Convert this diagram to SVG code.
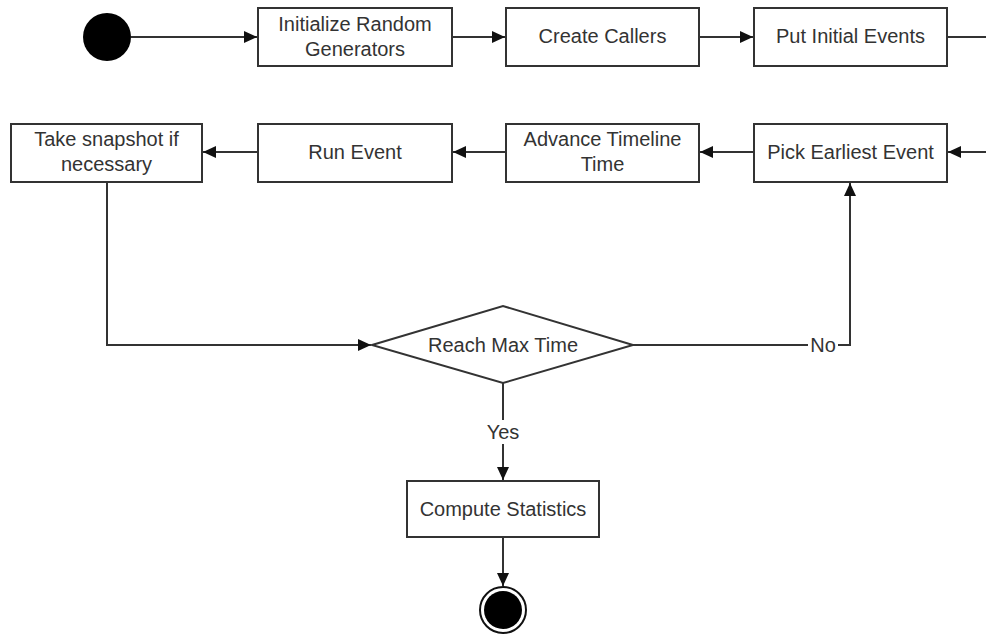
<svg xmlns="http://www.w3.org/2000/svg" width="986" height="635" viewBox="0 0 986 635">
<style>
.box{fill:#fff;stroke:#333;stroke-width:2}
.t{font-family:"Liberation Sans",Arial,sans-serif;font-size:20px;fill:#333;text-anchor:middle}
.c{fill:none;stroke:#333;stroke-width:2}
.lbl{font-family:"Liberation Sans",Arial,sans-serif;font-size:20px;fill:#333;text-anchor:middle}
</style>
<defs>
<marker id="ah" markerWidth="14" markerHeight="12" refX="13" refY="6" orient="auto" markerUnits="userSpaceOnUse">
<path d="M0,0 L13,6 L0,12 Z" fill="#111"/>
</marker>
</defs>
<rect width="986" height="635" fill="#fff"/>
<g id="connectors">
<path class="c" d="M131,37 H257" marker-end="url(#ah)"/>
<path class="c" d="M452,37 H505" marker-end="url(#ah)"/>
<path class="c" d="M699,37 H753" marker-end="url(#ah)"/>
<path class="c" d="M947,37 H1000 V152 H948" marker-end="url(#ah)"/>
<path class="c" d="M754,152 H700" marker-end="url(#ah)"/>
<path class="c" d="M506,152 H453" marker-end="url(#ah)"/>
<path class="c" d="M258,152 H203" marker-end="url(#ah)"/>
<path class="c" d="M107,182 V345 H371" marker-end="url(#ah)"/>
<path class="c" d="M633,345 H850 V183" marker-end="url(#ah)"/>
<path class="c" d="M503,383 V480" marker-end="url(#ah)"/>
<path class="c" d="M503,537 V586" marker-end="url(#ah)"/>
<rect x="808" y="333" width="30" height="24" fill="#fff"/>
<text class="lbl" x="823" y="352">No</text>
<rect x="482" y="420" width="42" height="24" fill="#fff"/>
<text class="lbl" x="503" y="439">Yes</text>
</g>
<g id="start"><circle cx="107" cy="37" r="24" fill="#000"/></g>
<g id="init"><rect class="box" x="258" y="8" width="194" height="58"/><text class="t" x="355" y="31">Initialize Random</text><text class="t" x="355" y="56">Generators</text></g>
<g id="callers"><rect class="box" x="506" y="8" width="193" height="58"/><text class="t" x="602.5" y="43">Create Callers</text></g>
<g id="initial"><rect class="box" x="754" y="8" width="193" height="58"/><text class="t" x="850.5" y="43">Put Initial Events</text></g>
<g id="snapshot"><rect class="box" x="11" y="124" width="191" height="58"/><text class="t" x="106.5" y="146">Take snapshot if</text><text class="t" x="106.5" y="171">necessary</text></g>
<g id="run"><rect class="box" x="258" y="124" width="194" height="58"/><text class="t" x="355" y="159">Run Event</text></g>
<g id="advance"><rect class="box" x="506" y="124" width="193" height="58"/><text class="t" x="602.5" y="146">Advance Timeline</text><text class="t" x="602.5" y="171">Time</text></g>
<g id="pick"><rect class="box" x="754" y="124" width="193" height="58"/><text class="t" x="850.5" y="159">Pick Earliest Event</text></g>
<g id="decision"><polygon class="box" points="372,345 503,306 633,345 503,383"/><text class="t" x="503" y="352">Reach Max Time</text></g>
<g id="compute"><rect class="box" x="407" y="481" width="192" height="56"/><text class="t" x="503" y="516">Compute Statistics</text></g>
<g id="end"><circle cx="503" cy="610" r="23" fill="#fff" stroke="#111" stroke-width="2"/><circle cx="503" cy="610" r="19" fill="#000"/></g>
</svg>
